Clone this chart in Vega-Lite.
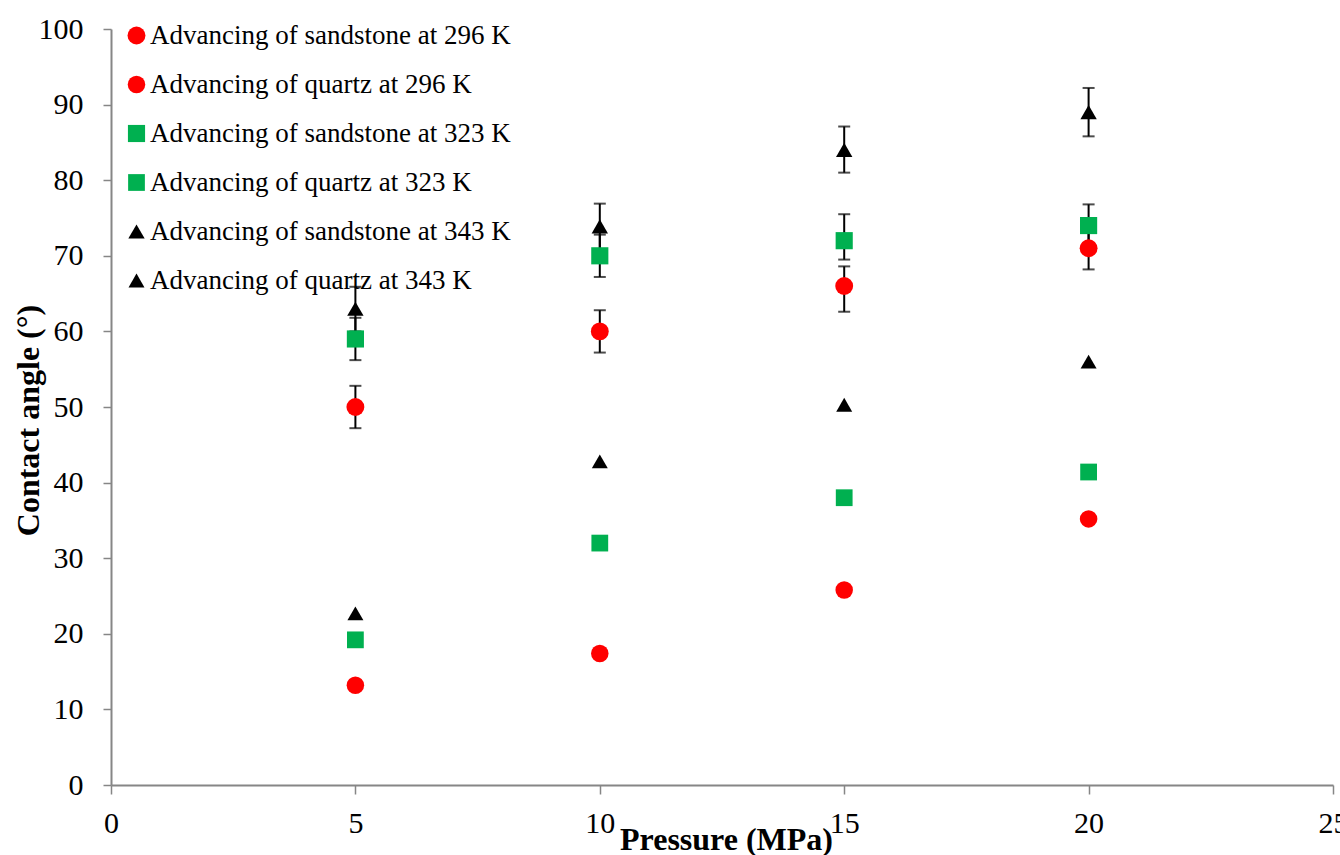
{
  "$schema": "https://vega.github.io/schema/vega-lite/v6.json",
  "autosize": {"type": "none"},
  "padding": {"left": 111, "top": 29, "right": 7, "bottom": 70},
  "width": 1222,
  "height": 756,
  "background": "white",
  "config": {
    "view": {"stroke": null},
    "font": "Liberation Serif",
    "axis": {"grid": false}
  },
  "data": {
    "values": [
      {"p": 5, "series": "Advancing of sandstone at 296 K", "kind": "sandstone", "angle": 50.0, "lo": 47.2, "hi": 52.8},
      {"p": 10, "series": "Advancing of sandstone at 296 K", "kind": "sandstone", "angle": 60.0, "lo": 57.2, "hi": 62.8},
      {"p": 15, "series": "Advancing of sandstone at 296 K", "kind": "sandstone", "angle": 66.0, "lo": 62.6, "hi": 68.6},
      {"p": 20, "series": "Advancing of sandstone at 296 K", "kind": "sandstone", "angle": 71.0, "lo": 68.2, "hi": 73.8},
      {"p": 5, "series": "Advancing of quartz at 296 K", "kind": "quartz", "angle": 13.2},
      {"p": 10, "series": "Advancing of quartz at 296 K", "kind": "quartz", "angle": 17.4},
      {"p": 15, "series": "Advancing of quartz at 296 K", "kind": "quartz", "angle": 25.8},
      {"p": 20, "series": "Advancing of quartz at 296 K", "kind": "quartz", "angle": 35.2},
      {"p": 5, "series": "Advancing of sandstone at 323 K", "kind": "sandstone", "angle": 59.0, "lo": 56.2, "hi": 61.8},
      {"p": 10, "series": "Advancing of sandstone at 323 K", "kind": "sandstone", "angle": 70.0, "lo": 67.2, "hi": 72.8},
      {"p": 15, "series": "Advancing of sandstone at 323 K", "kind": "sandstone", "angle": 72.0, "lo": 69.5, "hi": 75.5},
      {"p": 20, "series": "Advancing of sandstone at 323 K", "kind": "sandstone", "angle": 74.0, "lo": 71.2, "hi": 76.8},
      {"p": 5, "series": "Advancing of quartz at 323 K", "kind": "quartz", "angle": 19.2},
      {"p": 10, "series": "Advancing of quartz at 323 K", "kind": "quartz", "angle": 32.0},
      {"p": 15, "series": "Advancing of quartz at 323 K", "kind": "quartz", "angle": 38.0},
      {"p": 20, "series": "Advancing of quartz at 323 K", "kind": "quartz", "angle": 41.4},
      {"p": 5, "series": "Advancing of sandstone at 343 K", "kind": "sandstone", "angle": 63.0, "lo": 60.0, "hi": 65.9},
      {"p": 10, "series": "Advancing of sandstone at 343 K", "kind": "sandstone", "angle": 73.9, "lo": 70.9, "hi": 76.9},
      {"p": 15, "series": "Advancing of sandstone at 343 K", "kind": "sandstone", "angle": 84.0, "lo": 81.0, "hi": 87.1},
      {"p": 20, "series": "Advancing of sandstone at 343 K", "kind": "sandstone", "angle": 89.0, "lo": 85.8, "hi": 92.2},
      {"p": 5, "series": "Advancing of quartz at 343 K", "kind": "quartz", "angle": 22.7},
      {"p": 10, "series": "Advancing of quartz at 343 K", "kind": "quartz", "angle": 42.8},
      {"p": 15, "series": "Advancing of quartz at 343 K", "kind": "quartz", "angle": 50.3},
      {"p": 20, "series": "Advancing of quartz at 343 K", "kind": "quartz", "angle": 56.0}
    ]
  },
  "encoding": {
    "x": {
      "field": "p", "type": "quantitative",
      "scale": {"domain": [0, 25], "nice": false, "zero": false},
      "axis": {
        "values": [0, 5, 10, 15, 20, 25],
        "title": "Pressure (MPa)",
        "titleFont": "Liberation Serif", "titleFontSize": 32, "titleFontWeight": "bold", "titleColor": "black",
        "titleX": 615, "titleY": 64, "titleBaseline": "alphabetic", "titleAlign": "center",
        "labelFont": "Liberation Serif", "labelFontSize": 30, "labelColor": "black", "labelPadding": 14,
        "labelFlush": false, "labelOverlap": false,
        "domainColor": "#868686", "domainWidth": 2,
        "tickColor": "#868686", "tickWidth": 1.5, "tickSize": 9
      }
    }
  },
  "layer": [
    {
      "transform": [{"filter": "datum.kind === 'sandstone'"}],
      "mark": {"type": "errorbar", "ticks": {"size": 12, "thickness": 2, "color": "black"}, "rule": {"strokeWidth": 2, "color": "black"}},
      "encoding": {
        "y": {"field": "lo", "type": "quantitative", "title": "Contact angle (°)", "scale": {"domain": [0, 100], "nice": false}},
        "y2": {"field": "hi"}
      }
    },
    {
      "mark": {"type": "point", "filled": true, "opacity": 1, "strokeWidth": 0},
      "encoding": {
        "y": {
          "field": "angle", "type": "quantitative", "title": "Contact angle (°)",
          "scale": {"domain": [0, 100], "nice": false},
          "axis": {
            "values": [0, 10, 20, 30, 40, 50, 60, 70, 80, 90, 100],
            "title": "Contact angle (°)",
            "titleFont": "Liberation Serif", "titleFontSize": 32, "titleFontWeight": "bold", "titleColor": "black",
            "titleX": -73, "titleY": 391, "titleAngle": -90, "titleBaseline": "alphabetic", "titleAlign": "center",
            "labelFont": "Liberation Serif", "labelFontSize": 30, "labelColor": "black", "labelPadding": 20,
            "labelFlush": false, "labelOverlap": false,
            "domainColor": "#868686", "domainWidth": 2,
            "tickColor": "#868686", "tickWidth": 1.5, "tickSize": 8
          }
        },
        "color": {
          "field": "series", "type": "nominal",
          "scale": {
            "domain": ["Advancing of sandstone at 296 K", "Advancing of quartz at 296 K", "Advancing of sandstone at 323 K", "Advancing of quartz at 323 K", "Advancing of sandstone at 343 K", "Advancing of quartz at 343 K"],
            "range": ["#FF0000", "#FF0000", "#00B050", "#00B050", "#000000", "#000000"]
          },
          "legend": {
            "title": null, "orient": "none", "legendX": 12, "legendY": -7,
            "labelFont": "Liberation Serif", "labelFontSize": 27, "labelColor": "black", "labelLimit": 0,
            "symbolSize": 260, "symbolStrokeWidth": 0, "symbolOpacity": 1,
            "rowPadding": 21, "labelOffset": 0, "padding": 0
          }
        },
        "shape": {
          "field": "series", "type": "nominal",
          "scale": {
            "domain": ["Advancing of sandstone at 296 K", "Advancing of quartz at 296 K", "Advancing of sandstone at 323 K", "Advancing of quartz at 323 K", "Advancing of sandstone at 343 K", "Advancing of quartz at 343 K"],
            "range": ["circle", "circle", "square", "square", "triangle-up", "triangle-up"]
          },
          "legend": {
            "title": null, "orient": "none", "legendX": 12, "legendY": -7,
            "labelFont": "Liberation Serif", "labelFontSize": 27, "labelColor": "black", "labelLimit": 0,
            "symbolSize": 260, "symbolStrokeWidth": 0, "symbolOpacity": 1,
            "rowPadding": 21, "labelOffset": 0, "padding": 0
          }
        },
        "size": {
          "field": "series", "type": "nominal",
          "scale": {
            "domain": ["Advancing of sandstone at 296 K", "Advancing of quartz at 296 K", "Advancing of sandstone at 323 K", "Advancing of quartz at 323 K", "Advancing of sandstone at 343 K", "Advancing of quartz at 343 K"],
            "range": [320, 255, 400, 320, 440, 360]
          },
          "legend": null
        }
      }
    }
  ]
}
